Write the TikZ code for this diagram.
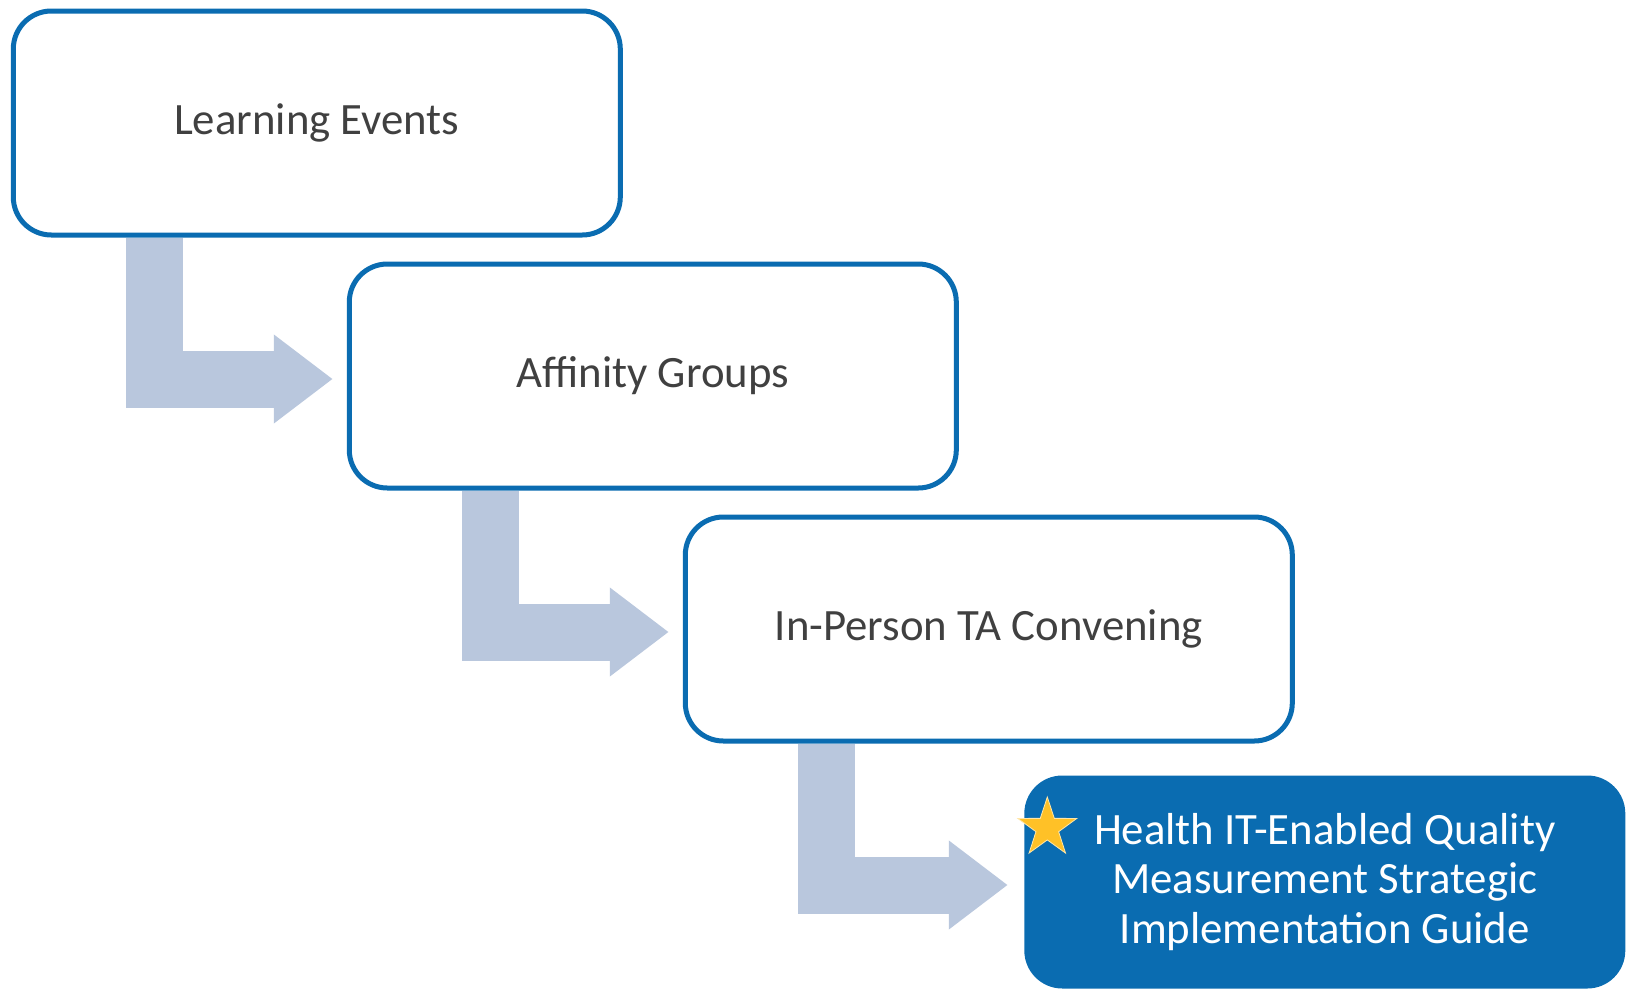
\documentclass[tikz,border=0pt]{standalone}
\usepackage{fontspec}
\setmainfont{Carlito}
\usetikzlibrary{arrows.meta, positioning, shapes.geometric, backgrounds}

\definecolor{boxblue}{RGB}{10,108,177}
\definecolor{flowgray}{RGB}{185,199,221}
\definecolor{textgray}{RGB}{64,64,64}
\definecolor{stargold}{RGB}{255,193,39}

\tikzset{
    stepbox/.style={draw=boxblue, line width=2.5pt, fill=white, rounded corners=19pt,
        minimum width=303.5pt, minimum height=112pt, inner sep=0pt, align=center,
        text=textgray, font=\fontsize{22.4}{24.7}\selectfont},
    goalbox/.style={stepbox, draw=none, fill=boxblue, text=white,
        minimum width=300.5pt, minimum height=106.5pt},
    flow/.style={line width=28.5pt, draw=flowgray,
        -{Triangle[length=29.5pt, width=42.5pt]}}
}

\begin{document}
\begin{tikzpicture}
    \useasboundingbox (0,0) rectangle (814pt,-495.5pt);

    \node[stepbox] (le) at (158.4pt,-61.5pt) {Learning Events};
    \node[stepbox] (ag) at ([shift={(168pt,-126.5pt)}]le) {Affinity Groups};
    \node[stepbox] (ipc) at ([shift={(168pt,-126.5pt)}]ag) {In-Person TA Convening};
    \node[goalbox] (guide) at ([shift={(168pt,-126.5pt)}]ipc)
        {Health IT-Enabled Quality\\Measurement Strategic\\Implementation Guide};
    \node[star, star points=5, star point ratio=2.6, fill=stargold, draw=white!60!stargold,
        line width=0.4pt, minimum size=31pt, inner sep=0pt] (mark)
        at ([shift={(-138.75pt,27pt)}]guide) {};

    % L-shaped arrows between the steps
    \begin{scope}[on background layer]
        \foreach \a/\b in {le/ag, ag/ipc, ipc/guide}
            \draw[flow] ([xshift=-81pt]\a.south) |- ([shift={(-7pt,-1.5pt)}]\b.west);
    \end{scope}
\end{tikzpicture}
\end{document}
